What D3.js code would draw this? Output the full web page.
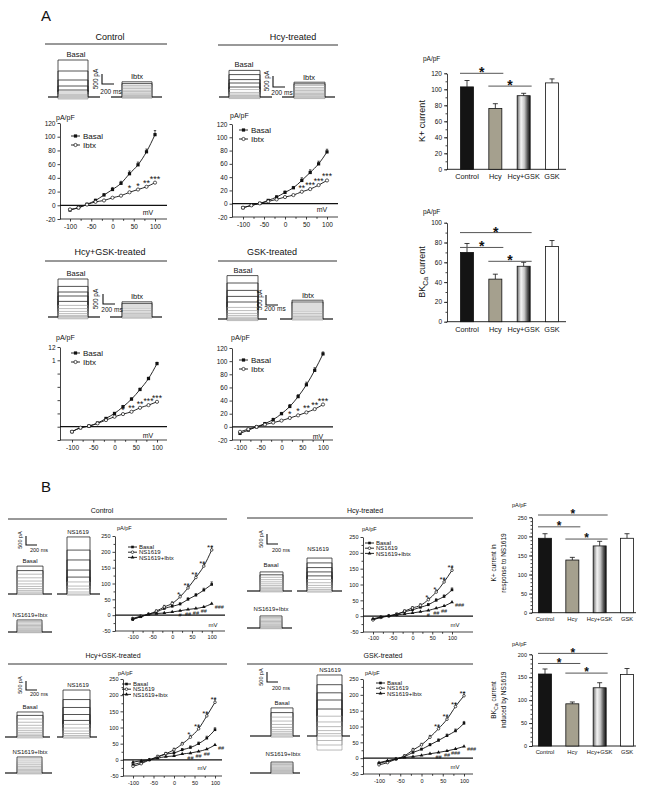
<!DOCTYPE html>
<html><head><meta charset="utf-8">
<script src="https://cdn.jsdelivr.net/npm/d3@7"></script>
<style>body{margin:0;background:#fff}svg{display:block}</style>
</head><body><svg id="c" width="650" height="793"></svg>
<script>
// ---------------- DATA ----------------
const mV = [-100,-80,-60,-40,-20,0,20,40,60,80,100];
const xTickLabels = [-100,-50,0,50,100];
// Panel A I-V (pA/pF)
const aCtrlBasal = [-7,-3.5,1.5,7,15,23,32,46,59,78,103];
const aCtrlIbtx  = [-6,-3.5,1,5,7,11,14,19,23,27,33];
const aCtrlErr   = [1,1,1,2,2,3,3,4,4,4,6];
const aCtrlStars = ["","","","","","","","*","*","**","***"];
const aHcyBasal = [-6,-2.5,0.5,5,10,17,24,35,47,60,78];
const aHcyIbtx  = [-6,-2.5,0.5,3.5,6.5,10,13,18,22,28,35];
const aHcyErr   = [1,1,1,1,2,2,2,4,4,4,4];
const aHcyStars = ["","","","","","","","**","***","***","***"];
const aHgBasal = [-7.5,-1.5,1,5.5,12.5,20,30,41.5,56,72.5,95];
const aHgIbtx  = [-7.5,-1.5,1,5,10,15,19,22.5,28.5,32.5,37.5];
const aHgErr   = [1,1,1,1,1,1,2,2,2,2,2];
const aHgStars = ["","","","","","","*","**","**","***","***"];
const aGskBasal = [-10,-5,0,5,11,20,31,46,64,86,111];
const aGskIbtx  = [-7.5,-3.5,0,3.5,6.5,9.5,13.5,17.5,22,27,34];
const aGskErr   = [2,1,1,1,2,2,3,3,4,4,3];
const aGskStars = ["","","","","","","*","*","**","**","***"];
// Panel B I-V (pA/pF)
const bCtrlBasal = [-14,-5,3,10,21,28,35,50,63,79,97];
const bCtrlNS    = [-10.5,-3,3,12.7,26,37,58,86,119,155,206];
const bCtrlNSI   = [-12,-5,2,5,7,10,14,18,21,26,36];
const bCtrlBErr  = [2,2,2,3,3,4,4,5,5,6,8];
const bCtrlNErr  = [3,3,3,4,5,5,6,7,8,8,10];
const bCtrlStars = ["","","","","","","*","**","**","**","**"];
const bCtrlHash  = ["","","","","","","#","##","##","##","###"];
const bHcyBasal = [-11,-3,1,7,14,20,28,36,50,62,83];
const bHcyNS    = [-12,-4,0,5,16,26,34,52,76,108,145];
const bHcyNSI   = [-8,-3,1,4,7,10,14,18,25,32,44];
const bHcyBErr  = [2,2,2,2,3,3,4,4,5,5,6];
const bHcyNErr  = [3,3,3,3,4,4,5,6,7,8,9];
const bHcyStars = ["","","","","","","","*","*","**","**"];
const bHcyHash  = ["","","","","","","","#","##","##","###"];
const bHgBasal = [-15,-8,0,8,18,21,31,38,50,67,93];
const bHgNS    = [-20,-12,0,10,19,31,49,70,96,136,178];
const bHgNSI   = [-7,-3,0,5,10,12,18,21,26,33,46];
const bHgBErr  = [2,2,2,3,3,4,4,5,5,6,6];
const bHgNErr  = [3,3,3,4,4,5,5,6,7,8,10];
const bHgStars = ["","","","","","","","*","**","**","**"];
const bHgHash  = ["","","","","","","","##","##","##","##"];
const bGskBasal = [-16,-10,-3,5,18,28,42,56,71,86,110];
const bGskNS    = [-21,-14,-3,7,26,42,66,93,123,163,197];
const bGskNSI   = [-14,-8,-2,2,5,9,14,18,23,29,37];
const bGskBErr  = [2,2,2,3,3,4,4,5,5,6,6];
const bGskNErr  = [3,3,3,4,5,5,6,7,8,9,10];
const bGskStars = ["","","","","","","","**","**","**","**"];
const bGskHash  = ["","","","","","","","##","##","###","###"];
// Bar charts
const barCats = ["Control","Hcy","Hcy+GSK","GSK"];
const aKVals = [103,76,92,108];  const aKErr = [8,6,3,5];
const aBKVals = [70,43,56,76];   const aBKErr = [9,5,4,6];
const bKVals = [195,138,175,195]; const bKErr = [12,7,12,12];
const bBKVals = [157,92,127,156]; const bBKErr = [11,4,11,13];
const aKSig = [[0,1,120],[1,2,104]];
const aBKSig = [[0,2,90],[0,1,75],[1,2,61]];
const bKSig = [[0,2,256],[0,1,225],[1,2,193]];
const bBKSig = [[0,2,202],[0,1,180],[1,2,159]];
// Current trace families (pA step levels)
const tAcB = [1850,1300,850,550,350,250,150,100,50,0,-50,-100];
const tAcI = [760,670,580,500,420,340,270,200,140,80,30,-20,-60];
const tAhB = [1330,1120,870,700,500,370,230,150,80,30,-30,-80];
const tAhI = [740,660,580,480,400,320,250,180,120,60,10,-40,-80];
const tAhgB = [1900,1530,1250,1050,780,580,420,280,170,80,20,-40,-90];
const tAhgI = [760,680,600,500,410,330,250,180,110,50,-10,-60];
const tAgB = [2170,1800,1430,1130,850,580,420,280,180,90,30,-30,-80];
const tAgI = [940,850,750,650,550,450,360,280,200,130,60,0,-50];
const tBcB = [1550,1300,1100,900,720,560,420,300,200,110,40,-30];
const tBcN = [3170,2440,1890,1330,940,670,440,280,110,0,-60];
const tBcI = [670,590,510,430,360,290,220,160,100,50,0,-40];
const tBhB = [1060,900,760,630,510,400,300,210,130,60,0,-50];
const tBhN = [1830,1560,1300,1060,840,640,460,310,180,80,0,-60];
const tBhI = [670,590,510,430,360,290,220,160,100,50,0,-40];
const tBhgB = [1390,1200,1000,820,650,500,370,260,160,80,10,-50];
const tBhgN = [2610,2080,1640,1250,920,700,500,330,190,80,0,-60];
const tBhgI = [890,780,670,560,460,370,280,200,130,60,0,-50];
const tBgB = [1560,1300,1050,830,640,480,350,240,150,70,0,-60];
const tBgN = [3390,2850,2400,2000,1500,1100,780,520,300,130,0,-250,-500,-780];
const tBgI = [610,540,470,400,330,270,210,150,100,50,0,-40];

// ---------------- DRAWING ----------------
const FONT = "'Liberation Sans', Arial, Helvetica, sans-serif";
const svg = d3.select("#c").attr("font-family", FONT);
svg.append("rect").attr("width",650).attr("height",793).attr("fill","#fff");

function txt(g, x, y, s, fs, anchor="middle", extra={}) {
  const t = g.append("text").attr("x",x).attr("y",y).attr("font-size",fs)
    .attr("text-anchor",anchor).attr("fill", extra.fill || "#111").text(s);
  if (extra.rot) t.attr("transform",`rotate(-90,${x},${y})`);
  if (extra.weight) t.attr("font-weight", extra.weight);
  return t;
}
function styleAxis(sel, fs) {
  sel.attr("font-family", FONT).attr("font-size", fs);
  sel.selectAll("path,line").attr("stroke","#111").attr("stroke-width",0.8);
  sel.selectAll("text").attr("fill","#111");
}
function title(x, y, s, fs, lx1, lx2, ly) {
  txt(svg, x, y, s, fs);
  svg.append("line").attr("x1",lx1).attr("x2",lx2).attr("y1",ly).attr("y2",ly)
    .attr("stroke","#333").attr("stroke-width",1);
}
function marker(g, type, x, y, s) {
  if (type === "sq") g.append("rect").attr("x",x-s/2).attr("y",y-s/2).attr("width",s).attr("height",s).attr("fill","#111");
  else if (type === "circ") g.append("circle").attr("cx",x).attr("cy",y).attr("r",s/2).attr("fill","#fff").attr("stroke","#111").attr("stroke-width",0.7);
  else if (type === "tri") g.append("path").attr("d", d3.symbol(d3.symbolTriangle, s*s*0.9)()).attr("transform",`translate(${x},${y})`).attr("fill","#111");
}

function ivPlot(o) {
  const g = svg.append("g");
  const xs = d3.scaleLinear().domain([-100,100]).range(o.xr);
  const ys = d3.scaleLinear().domain(o.yd).range(o.yr);
  const yb = ys(o.yd[0]);
  g.append("g").attr("transform",`translate(${o.ax},0)`)
    .call(d3.axisLeft(ys).tickValues(o.yMajor).tickSize(2.5).tickPadding(2).tickSizeOuter(0).tickFormat(o.yFmt || (d=>String(d))))
    .call(s=>styleAxis(s,o.fs));
  if (o.yMinor) g.append("g").attr("transform",`translate(${o.ax},0)`)
    .call(d3.axisLeft(ys).tickValues(o.yMinor).tickSize(1.5).tickFormat(""))
    .call(s=>{s.select(".domain").remove(); styleAxis(s,o.fs);});
  const gx = g.append("g").attr("transform",`translate(0,${yb})`)
    .call(d3.axisBottom(xs).tickValues(xTickLabels).tickSize(2.5).tickPadding(o.xPad||2.5).tickFormat(d=>String(d)))
    .call(s=>styleAxis(s,o.fs));
  gx.select(".domain").remove();
  const gxm = g.append("g").attr("transform",`translate(0,${yb})`)
    .call(d3.axisBottom(xs).tickValues([-75,-25,25,75]).tickSize(1.8).tickFormat(""))
    .call(s=>styleAxis(s,o.fs));
  gxm.select(".domain").remove();
  g.append("line").attr("x1",o.ax).attr("x2",o.ae).attr("y1",yb).attr("y2",yb).attr("stroke","#111").attr("stroke-width",0.8);
  g.append("line").attr("x1",o.ax).attr("x2",o.ae).attr("y1",ys(0)).attr("y2",ys(0)).attr("stroke","#111").attr("stroke-width",1.3);
  const line = d3.line().curve(d3.curveMonotoneX);
  o.series.forEach(s => {
    const pts = mV.map((v,i)=>[xs(v), ys(s.vals[i])]);
    g.append("path").attr("d", line(pts)).attr("fill","none").attr("stroke","#111").attr("stroke-width",0.9);
    if (s.err) s.err.forEach((e,i)=>{
      const x = xs(mV[i]), y1 = ys(s.vals[i]), y2 = ys(s.vals[i]+e);
      g.append("path").attr("d",`M${x},${y1}V${y2}M${x-1.2},${y2}H${x+1.2}`).attr("stroke","#111").attr("stroke-width",0.7).attr("fill","none");
    });
    pts.forEach(p => marker(g, s.m, p[0], p[1], o.ms));
  });
  (o.ann||[]).forEach(a => {
    a.labels.forEach((l,i) => {
      if (!l) return;
      const last = (i === mV.length-1) && a.lastDx !== undefined;
      const x = xs(mV[i]) + (last ? a.lastDx : (a.dx||0));
      const y = ys(o.series[a.s].vals[i]) + (last ? a.lastDy : a.dy);
      txt(g, x, y, l, a.fs, last ? "start" : "middle", {weight: a.weight});
    });
  });
  const L = o.legend;
  L.items.forEach((it,i) => {
    const y = L.y + i*L.dy;
    g.append("line").attr("x1",L.x).attr("x2",L.x+L.w).attr("y1",y).attr("y2",y).attr("stroke","#111").attr("stroke-width",0.9);
    marker(g, it[1], L.x+L.w/2, y, o.ms);
    txt(g, L.x+L.w+L.gap, y + L.fs*0.35, it[0], L.fs, "start");
  });
  txt(g, o.unit[0], o.unit[1], "pA/pF", o.unit[2], "start");
  txt(g, o.mv[0], o.mv[1], "mV", o.mv[2], "middle");
}

function traces(o) {
  const g = svg.append("g");
  const ysc = d3.scaleLinear().domain([0,1000]).range([o.base, o.base - 1000*o.k]);
  o.levels.forEach((lv,i) => {
    const pts = [[o.bl,o.base],[o.bl,ysc(lv)],[o.br,ysc(lv)],[o.br,o.base]];
    g.append("path").attr("d", d3.line()(pts)).attr("fill","none")
      .attr("stroke", i < o.dark ? "#2a2a2a" : "#8d8d8d").attr("stroke-width", i < o.dark ? 0.8 : 0.6);
  });
  g.append("line").attr("x1",o.x0).attr("x2",o.bl).attr("y1",o.base).attr("y2",o.base).attr("stroke","#111").attr("stroke-width",1.2);
  g.append("line").attr("x1",o.br).attr("x2",o.x1).attr("y1",o.base).attr("y2",o.base).attr("stroke","#111").attr("stroke-width",1.2);
  const top = ysc(d3.max(o.levels));
  txt(g, o.lab[0], top - o.lab[1], o.label, o.lab[2]);
}
function scaleBar(o) {
  svg.append("path").attr("d",`M${o.x},${o.y1}V${o.y2}H${o.x2}`).attr("fill","none").attr("stroke","#111").attr("stroke-width",1.1);
  txt(svg, o.pa[0], o.pa[1], "500 pA", o.fs, "middle", {rot:true});
  txt(svg, o.ms[0], o.ms[1], "200 ms", o.fs, "middle");
}

const defs = svg.append("defs");
const gr = defs.append("linearGradient").attr("id","gsk").attr("x1","0").attr("x2","1").attr("y1","0").attr("y2","0");
[[0,"#6a6a6a"],[0.3,"#f4f4f4"],[0.55,"#c8c8c8"],[0.8,"#555"],[1,"#111"]].forEach(s=>gr.append("stop").attr("offset",s[0]).attr("stop-color",s[1]));
const barFill = ["#141414","#a5a08e","url(#gsk)","#fff"];

function barChart(o) {
  const g = svg.append("g");
  const xs = d3.scalePoint().domain(barCats).range(o.xr);
  const ys = d3.scaleLinear().domain([0,o.max]).range([o.y0,o.yTop]);
  g.append("g").attr("transform",`translate(${o.ax},0)`)
    .call(d3.axisLeft(ys).tickValues(d3.range(0,o.max+1,o.major)).tickSize(3).tickPadding(2).tickSizeOuter(0))
    .call(s=>styleAxis(s,o.fs));
  g.append("g").attr("transform",`translate(${o.ax},0)`)
    .call(d3.axisLeft(ys).tickValues(d3.range(0,o.max+1,o.minor)).tickSize(1.5).tickFormat(""))
    .call(s=>{s.select(".domain").remove(); styleAxis(s,o.fs);});
  g.append("line").attr("x1",o.ax).attr("x2",o.ae).attr("y1",o.y0).attr("y2",o.y0).attr("stroke","#111").attr("stroke-width",0.9);
  barCats.forEach((c,i) => {
    const x = xs(c), v = o.vals[i], e = o.errs[i];
    g.append("path").attr("d",`M${x},${ys(v)}V${ys(v+e)}M${x-2.5},${ys(v+e)}H${x+2.5}`).attr("stroke","#111").attr("stroke-width",0.8).attr("fill","none");
    g.append("rect").attr("x",x-o.bw/2).attr("y",ys(v)).attr("width",o.bw).attr("height",o.y0-ys(v))
      .attr("fill",barFill[i]).attr("stroke","#111").attr("stroke-width",0.8);
    txt(g, x, o.y0 + o.labDy, c, o.lfs);
  });
  o.sig.forEach(s => {
    const x1 = xs(barCats[s[0]]) - 7, x2 = xs(barCats[s[1]]) + 8, y = ys(s[2]);
    g.append("line").attr("x1",x1).attr("x2",x2).attr("y1",y).attr("y2",y).attr("stroke","#555").attr("stroke-width",1);
    txt(g, (x1+x2)/2, y + o.sfs*0.28, "*", o.sfs, "middle", {weight:"bold"});
  });
  txt(g, o.unit[0], o.unit[1], "pA/pF", o.unit[2], "start");
  o.ylab(g);
}

// ---------- Panel letters ----------
txt(svg, 46, 21, "A", 15);
txt(svg, 46, 492, "B", 15);

// ---------- Panel A titles ----------
title(110, 40, "Control", 9, 45, 167, 44);
title(293, 40, "Hcy-treated", 9, 218, 338, 45);
title(110, 255, "Hcy+GSK-treated", 9, 45, 167, 261);
title(272, 255, "GSK-treated", 9, 218, 337, 261);

// ---------- Panel A traces ----------
const kA = 0.02;
traces({x0:48,bl:58,br:88,x1:100,base:97,levels:tAcB,k:kA,dark:5,label:"Basal",lab:[76,3,7.5]});
traces({x0:111,bl:122,br:152,x1:162,base:97,levels:tAcI,k:kA,dark:2,label:"Ibtx",lab:[137,2.5,7.5]});
scaleBar({x:102,y1:74,y2:84,x2:114,fs:6.5,pa:[98,79],ms:[111,94]});
traces({x0:219,bl:229,br:260,x1:272,base:97,levels:tAhB,k:kA,dark:5,label:"Basal",lab:[244,3,7.5]});
traces({x0:282,bl:294,br:325,x1:335,base:97,levels:tAhI,k:kA,dark:2,label:"Ibtx",lab:[309,2.5,7.5]});
scaleBar({x:273,y1:76,y2:87,x2:285,fs:6.5,pa:[269,81],ms:[282,95]});
traces({x0:48,bl:58,br:88,x1:100,base:317,levels:tAhgB,k:kA,dark:5,label:"Basal",lab:[76,3,7.5]});
traces({x0:110,bl:122,br:152,x1:162,base:317,levels:tAhgI,k:kA,dark:2,label:"Ibtx",lab:[137,2.5,7.5]});
scaleBar({x:103,y1:294,y2:304,x2:115,fs:6.5,pa:[98,299],ms:[112,312]});
traces({x0:218,bl:227,br:258,x1:267,base:319,levels:tAgB,k:kA,dark:5,label:"Basal",lab:[243,3,7.5]});
traces({x0:280,bl:292,br:323,x1:333,base:319,levels:tAgI,k:kA,dark:2,label:"Ibtx",lab:[308,2.5,7.5]});
scaleBar({x:266,y1:295,y2:305,x2:278,fs:6.5,pa:[262,300],ms:[275,311]});

// ---------- Panel A I-V ----------
const yMajA = [-20,0,20,40,60,80,100,120];
const legA = (x,y) => ({x:x,y:y,dy:9,w:9,gap:3,fs:8,items:[["Basal","sq"],["Ibtx","circ"]]});
ivPlot({xr:[70,155],yd:[-20,120],yr:[219,123],ax:60,ae:167,yMajor:yMajA,fs:6.5,ms:3.2,
  series:[{vals:aCtrlBasal,err:aCtrlErr,m:"sq"},{vals:aCtrlIbtx,m:"circ"}],
  ann:[{labels:aCtrlStars,s:1,dy:-1,fs:9}],
  legend:legA(71,136),unit:[56,120,7],mv:[148,215,7]});
ivPlot({xr:[243,327],yd:[-20,120],yr:[217,124],ax:232,ae:338,yMajor:yMajA,fs:6.5,ms:3.2,
  series:[{vals:aHcyBasal,err:aHcyErr,m:"sq"},{vals:aHcyIbtx,m:"circ"}],
  ann:[{labels:aHcyStars,s:1,dy:-1,fs:8.5}],
  legend:legA(239,130),unit:[230,118,7],mv:[322,212,7]});
ivPlot({xr:[72,157],yd:[-20,120],yr:[440,347],ax:60,ae:167,yMajor:yMajA,fs:6.5,ms:3.2,
  yFmt:d=> d===120 ? "12" : (d===100 ? "1" : ""),
  series:[{vals:aHgBasal,err:aHgErr,m:"sq"},{vals:aHgIbtx,m:"circ"}],
  ann:[{labels:aHgStars,s:1,dy:-1,fs:8.5}],
  legend:legA(71,353),unit:[56,340,7],mv:[148,438,7]});
ivPlot({xr:[240,323],yd:[-20,120],yr:[440,348],ax:232,ae:333,yMajor:yMajA,fs:6.5,ms:3.2,
  series:[{vals:aGskBasal,err:aGskErr,m:"sq"},{vals:aGskIbtx,m:"circ"}],
  ann:[{labels:aGskStars,s:1,dy:-1,fs:9}],
  legend:legA(239,360),unit:[231,340,7],mv:[318,439,7]});

// ---------- Panel A bars ----------
barChart({ax:447,ae:566,xr:[467,552],y0:169.3,yTop:73.3,max:120,major:20,minor:10,bw:13,fs:6.5,lfs:7.3,labDy:10,sfs:14,
  vals:aKVals,errs:aKErr,sig:aKSig,unit:[423,61,6.5],
  ylab:g=>txt(g,425,121,"K+ current",9,"middle",{rot:true})});
barChart({ax:447,ae:566,xr:[467,552],y0:321.7,yTop:222.7,max:100,major:20,minor:10,bw:13,fs:6.5,lfs:7.3,labDy:10,sfs:14,
  vals:aBKVals,errs:aBKErr,sig:aBKSig,unit:[423,214,6.5],
  ylab:g=>{
    const t = g.append("text").attr("x",425).attr("y",272).attr("font-size",9).attr("text-anchor","middle")
      .attr("fill","#111").attr("transform","rotate(-90,425,272)");
    t.append("tspan").text("BK");
    t.append("tspan").attr("dy",2.5).attr("font-size",7).text("Ca");
    t.append("tspan").attr("dy",-2.5).text(" current");
  }});

// ---------- Panel B titles ----------
title(102, 513, "Control", 7, 8, 227, 519);
title(365, 513, "Hcy-treated", 7, 247, 473, 518);
title(113, 658, "Hcy+GSK-treated", 7, 8, 227, 664);
title(383, 658, "GSK-treated", 7, 247, 473, 664);

// ---------- Panel B traces ----------
const kB = 0.018;
traces({x0:8,bl:17,br:43,x1:52,base:594,levels:tBcB,k:kB,dark:2,label:"Basal",lab:[30,3,6]});
traces({x0:57,bl:67,br:90,x1:100,base:594,levels:tBcN,k:kB,dark:5,label:"NS1619",lab:[78,3,6]});
traces({x0:8,bl:17,br:42,x1:52,base:632,levels:tBcI,k:kB,dark:1,label:"NS1619+Ibtx",lab:[30,3,6]});
scaleBar({x:26,y1:536,y2:545,x2:37,fs:5.5,pa:[22,540],ms:[39,552]});
traces({x0:247,bl:260,br:283,x1:292,base:591,levels:tBhB,k:kB,dark:2,label:"Basal",lab:[271,5,6]});
traces({x0:297,bl:307,br:332,x1:342,base:591,levels:tBhN,k:kB,dark:5,label:"NS1619",lab:[318,7,6]});
traces({x0:247,bl:260,br:282,x1:292,base:628,levels:tBhI,k:kB,dark:1,label:"NS1619+Ibtx",lab:[271,5,6]});
scaleBar({x:267,y1:534,y2:544,x2:278,fs:5.5,pa:[263,539],ms:[281,552]});
traces({x0:5,bl:17,br:43,x1:50,base:737,levels:tBhgB,k:kB,dark:2,label:"Basal",lab:[30,3,6]});
traces({x0:57,bl:63,br:90,x1:97,base:737,levels:tBhgN,k:kB,dark:5,label:"NS1619",lab:[78,3,6]});
traces({x0:5,bl:17,br:42,x1:52,base:773,levels:tBhgI,k:kB,dark:1,label:"NS1619+Ibtx",lab:[30,3,6]});
scaleBar({x:26,y1:681,y2:690,x2:37,fs:5.5,pa:[22,685],ms:[39,696]});
traces({x0:250,bl:271,br:293,x1:300,base:736,levels:tBgB,k:kB,dark:2,label:"Basal",lab:[282,3,6]});
traces({x0:307,bl:317,br:342,x1:350,base:736,levels:tBgN,k:kB,dark:5,label:"NS1619",lab:[330,3,6]});
traces({x0:250,bl:271,br:293,x1:300,base:773,levels:tBgI,k:kB,dark:1,label:"NS1619+Ibtx",lab:[283,6,6]});
scaleBar({x:267,y1:672,y2:682,x2:278,fs:5.5,pa:[263,677],ms:[281,690]});

// ---------- Panel B I-V ----------
const yMajB = [-50,0,50,100,150,200,250];
const yMinB = [-25,25,75,125,175,225];
const legB = (x,y) => ({x:x,y:y,dy:5.2,w:9,gap:2,fs:6,items:[["Basal","sq"],["NS1619","circ"],["NS1619+Ibtx","tri"]]});
const annB = (st,ha) => [{labels:st,s:1,dx:-1.5,dy:0,fs:8},{labels:ha,s:2,dx:0,dy:6.5,lastDx:3,lastDy:5,fs:5.5}];
ivPlot({xr:[132.7,211.7],yd:[-50,250],yr:[631,536],ax:115,ae:225,yMajor:yMajB,yMinor:yMinB,fs:5.5,ms:2.6,xPad:2,
  series:[{vals:bCtrlBasal,err:bCtrlBErr,m:"sq"},{vals:bCtrlNS,err:bCtrlNErr,m:"circ"},{vals:bCtrlNSI,m:"tri"}],
  ann:annB(bCtrlStars,bCtrlHash),legend:legB(128,547),unit:[117,530,5.5],mv:[213,627,6]});
ivPlot({xr:[373,452],yd:[-50,250],yr:[632,537],ax:363,ae:473,yMajor:yMajB,yMinor:yMinB,fs:5.5,ms:2.6,xPad:2,
  series:[{vals:bHcyBasal,err:bHcyBErr,m:"sq"},{vals:bHcyNS,err:bHcyNErr,m:"circ"},{vals:bHcyNSI,m:"tri"}],
  ann:annB(bHcyStars,bHcyHash),legend:legB(365,543),unit:[362,531,5.5],mv:[455,627,6]});
ivPlot({xr:[133,215],yd:[-50,250],yr:[776,679],ax:123,ae:222,yMajor:yMajB,yMinor:yMinB,fs:5.5,ms:2.6,xPad:2.5,
  series:[{vals:bHgBasal,err:bHgBErr,m:"sq"},{vals:bHgNS,err:bHgNErr,m:"circ"},{vals:bHgNSI,m:"tri"}],
  ann:annB(bHgStars,bHgHash),legend:legB(122,684),unit:[118,675,5.5],mv:[202,770,6]});
ivPlot({xr:[379,464],yd:[-50,250],yr:[774,679],ax:363,ae:473,yMajor:yMajB,yMinor:yMinB,fs:5.5,ms:2.6,xPad:2.5,
  series:[{vals:bGskBasal,err:bGskBErr,m:"sq"},{vals:bGskNS,err:bGskNErr,m:"circ"},{vals:bGskNSI,m:"tri"}],
  ann:annB(bGskStars,bGskHash),legend:legB(376,683),unit:[365,675,5.5],mv:[455,769,6]});

// ---------- Panel B bars ----------
function twoLineLabel(g, x1, x2, yc, l1, l2, fs, sub) {
  const t1 = g.append("text").attr("x",x1).attr("y",yc).attr("font-size",fs).attr("text-anchor","middle")
    .attr("fill","#111").attr("transform",`rotate(-90,${x1},${yc})`);
  if (sub) { t1.append("tspan").text("BK"); t1.append("tspan").attr("dy",2).attr("font-size",fs*0.8).text("Ca"); t1.append("tspan").attr("dy",-2).text(" current"); }
  else t1.text(l1);
  txt(g, x2, yc, l2, fs, "middle", {rot:true});
}
barChart({ax:532,ae:636,xr:[545,627],y0:612.7,yTop:517.3,max:250,major:50,minor:10,bw:13,fs:5.5,lfs:5.8,labDy:8,sfs:12,
  vals:bKVals,errs:bKErr,sig:bKSig,unit:[512,507,5.5],
  ylab:g=>twoLineLabel(g,496,506,563,"K+ current in","response to NS1619",6.5,false)});
barChart({ax:532,ae:636,xr:[545,627],y0:746,yTop:654.3,max:200,major:50,minor:10,bw:13,fs:5.5,lfs:5.8,labDy:8,sfs:12,
  vals:bBKVals,errs:bBKErr,sig:bBKSig,unit:[512,646,5.5],
  ylab:g=>twoLineLabel(g,496,506,700,"","induced by NS1619",6.5,true)});
</script>
</body></html>
